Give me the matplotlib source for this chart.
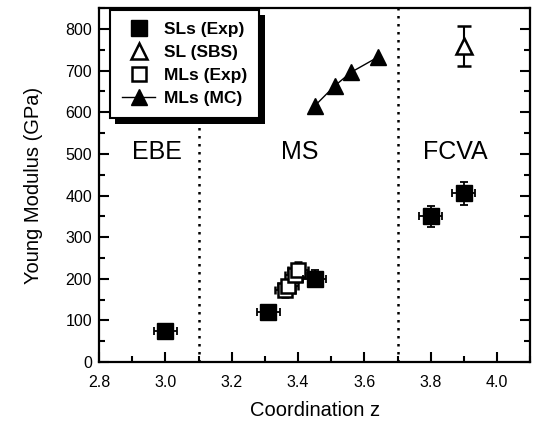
import matplotlib
matplotlib.use("Agg")
import matplotlib.pyplot as plt
import matplotlib.patheffects as pe
from matplotlib.lines import Line2D
from matplotlib.ticker import MultipleLocator

plt.rcParams['font.family'] = ['Liberation Sans', 'DejaVu Sans']

# single layers, experiment
sl_z = [3.00, 3.31, 3.45, 3.80, 3.90]
sl_E = [75, 120, 200, 350, 405]
sl_zerr = [0.035, 0.035, 0.035, 0.035, 0.035]
sl_Eerr = [15, 15, 20, 26, 28]

# single layer, SBS
sbs_z = [3.90]
sbs_E = [760]
sbs_Eerr = [48]

# multilayers, experiment
ml_z = [3.36, 3.37, 3.39, 3.40]
ml_E = [172, 182, 210, 222]
ml_zerr = [0.03, 0.03, 0.03, 0.03]
ml_Eerr = [15, 15, 18, 18]

# multilayers, Monte Carlo
mc_z = [3.45, 3.51, 3.56, 3.64]
mc_E = [615, 663, 696, 732]

regions = ['EBE', 'MS', 'FCVA']
region_x = [2.975, 3.405, 3.875]
borders = [3.1, 3.7]

fig = plt.figure(figsize=(5.36, 4.28), dpi=100)
ax = fig.add_axes([0.185, 0.154, 0.804, 0.827])

for b in borders:
    ax.axvline(b, color='k', ls=(0, (1, 2.2)), lw=1.8, zorder=1)

for name, x in zip(regions, region_x):
    ax.text(x, 505, name, ha='center', va='center', fontsize=18)

ax.errorbar(ml_z, ml_E, xerr=ml_zerr, yerr=ml_Eerr, fmt='s', ms=10,
            mfc='white', mec='k', mew=1.8, ecolor='k', elinewidth=1.3,
            capsize=3, capthick=1.3, zorder=3)
ax.errorbar(sl_z, sl_E, xerr=sl_zerr, yerr=sl_Eerr, fmt='s', ms=11,
            color='k', elinewidth=1.3, capsize=3, capthick=1.3, zorder=4)
ax.errorbar(sbs_z, sbs_E, yerr=sbs_Eerr, fmt='^', ms=11, mfc='white',
            mec='k', mew=1.8, ecolor='k', elinewidth=1.5, capsize=5,
            capthick=1.5, zorder=4)
ax.plot(mc_z, mc_E, '-^', color='k', ms=12, lw=1, zorder=4)

ax.set_xlim(2.8, 4.1)
ax.set_ylim(0, 850)
ax.xaxis.set_major_locator(MultipleLocator(0.2))
ax.xaxis.set_minor_locator(MultipleLocator(0.1))
ax.yaxis.set_major_locator(MultipleLocator(100))
ax.yaxis.set_minor_locator(MultipleLocator(50))
ax.tick_params(which='both', direction='in', right=True, top=False,
               width=1.5, labelsize=11.5)
ax.tick_params(axis='x', pad=9)
ax.tick_params(axis='y', pad=5)
ax.tick_params(which='major', length=7)
ax.tick_params(which='minor', length=4)
for s in ax.spines.values():
    s.set_linewidth(1.6)

ax.set_xlabel('Coordination z', fontsize=14.5, labelpad=8)
ax.set_ylabel('Young Modulus (GPa)', fontsize=14.5, labelpad=16)

handles = [
    Line2D([], [], ls='none', marker='s', ms=11, color='k'),
    Line2D([], [], ls='none', marker='^', ms=11, mfc='white', mec='k', mew=1.8),
    Line2D([], [], ls='none', marker='s', ms=10, mfc='white', mec='k', mew=1.8),
    Line2D([], [], ls='-', lw=1, marker='^', ms=12, color='k'),
]
labels = ['SLs (Exp)', 'SL (SBS)', 'MLs (Exp)', 'MLs (MC)']
leg = ax.legend(handles, labels, loc='upper left', bbox_to_anchor=(0.025, 0.995),
                fancybox=False, framealpha=1, edgecolor='k',
                prop={'weight': 'bold', 'size': 12.5}, handlelength=1.9,
                handletextpad=0.5, labelspacing=0.45, borderpad=0.7,
                borderaxespad=0)
leg.get_frame().set_linewidth(1.5)
leg.get_frame().set_path_effects([
    pe.SimplePatchShadow(offset=(4, -4), shadow_rgbFace='k', alpha=1),
    pe.Normal()])
leg.set_zorder(10)

fig.savefig('out.png', dpi=100)
